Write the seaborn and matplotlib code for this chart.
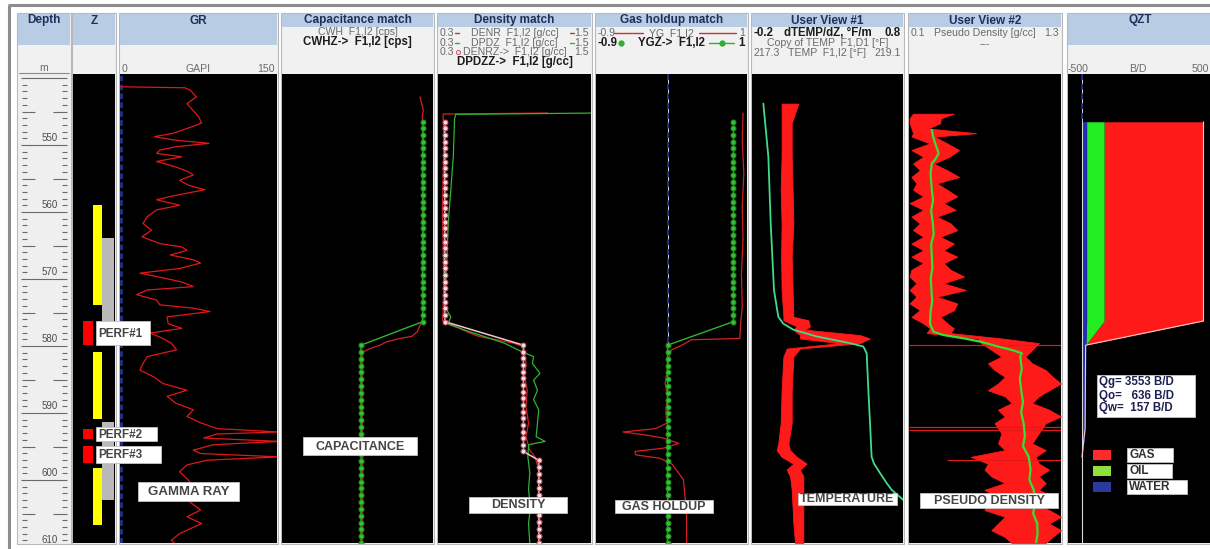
import numpy as np
import matplotlib
matplotlib.use("Agg")
import matplotlib.pyplot as plt
from matplotlib.patches import Rectangle
import seaborn as sns

sns.set_style("white")
plt.rcParams["font.family"] = ["Liberation Sans", "DejaVu Sans"]

# ---------------- log data (depth in m) ----------------
GR_DEPTH = [541.6, 541.75, 542.1, 543.1, 544.1, 545.0, 546.0, 547.0, 547.8, 548.5, 549.0, 549.5,
            550.0, 550.5, 551.0, 551.5, 552.0, 552.7, 553.5, 554.2, 554.7, 555.5, 556.2, 556.9,
            557.9, 558.4, 559.2, 559.9, 560.9, 561.9, 562.9, 563.9, 564.9, 565.4, 565.9, 566.6,
            567.3, 567.8, 568.6, 569.3, 569.8, 570.6, 571.3, 571.8, 572.5, 573.3, 574.0, 574.5,
            575.0, 575.8, 576.8, 577.5, 578.2, 579.0, 579.7, 580.7, 581.7, 582.7, 583.7, 584.7,
            585.7, 586.7, 587.6, 588.6, 589.6, 590.6, 591.6, 592.4, 592.9, 593.2, 593.8, 594.3,
            594.8, 595.6, 596.1, 596.6, 597.1, 597.8, 598.8, 600.0, 601.5, 603.0, 604.5, 605.5,
            606.5, 608.0, 609.0, 609.4]
GR_API = [1, 62, 67, 73, 64, 69, 75, 78, 64, 51, 33, 51,
          85, 54, 38, 35, 59, 35, 53, 65, 70, 57, 65, 81,
          48, 35, 57, 35, 26, 22, 30, 21, 38, 59, 64, 48,
          70, 77, 57, 19, 35, 59, 70, 26, 16, 35, 38, 70,
          86, 45, 46, 59, 29, 41, 49, 54, 26, 22, 19, 32,
          41, 64, 45, 53, 70, 64, 78, 93, 152, 93, 80, 152,
          89, 70, 77, 152, 83, 64, 57, 65, 72, 64, 77, 64,
          78, 57, 49, 52]

# Z track intervals
YELLOW_TOP = [559.2, 581.0, 598.2]
YELLOW_BASE = [574.0, 590.9, 606.7]
GRAY_TOP = [564.1, 591.4]
GRAY_BASE = [580.0, 603.0]
PERF_TOP = [576.4, 592.5, 595.0]
PERF_BASE = [580.0, 594.0, 597.5]
PERF_NAMES = ["PERF#1", "PERF#2", "PERF#3"]

# computation zones used by the zoned (matched) curves
ZONE_TOP = [546.8, 580.0]
ZONE_BASE = [576.5, 609.4]
CWHZ = [93.2, 52.3]
YGZ = [0.83, 0.0]
DEN_ZONE_TOP = [546.8, 580.0, 597.1]
DEN_ZONE_BASE = [576.5, 595.8, 609.4]
DENRZ = [0.353, 0.97, 1.09]

# capacitance (relative cps scale)
CWH_DEPTH = [543.1, 544.1, 545.1, 546.0, 549.5, 554.5, 559.4, 564.4, 569.3, 574.3, 576.3, 577.3,
             578.0, 578.7, 579.0, 579.5, 580.0, 580.5, 581.0, 581.7, 591.6, 601.5, 609.4]
CWH = [91.4, 92.5, 93.6, 92.9, 93.6, 92.9, 94.0, 93.6, 92.9, 93.6, 92.9, 90.9,
       89.6, 85.9, 78.1, 69.3, 64.9, 58.3, 53.8, 53.2, 53.2, 53.4, 53.2]

# density
DENR_DEPTH = [545.5, 545.65, 550.0, 555.0, 560.0, 565.0, 570.0, 575.0, 576.3, 576.8, 577.5, 578.2,
              578.7, 579.2, 579.7, 580.2, 582.7, 584.7, 586.7, 589.1, 591.6, 593.6, 595.6, 596.6,
              599.0, 601.5, 604.0, 606.5, 609.4]
DENR = [1.16, 0.34, 0.345, 0.34, 0.335, 0.34, 0.345, 0.34, 0.335, 0.36, 0.47, 0.55,
        0.62, 0.76, 0.89, 0.97, 0.99, 0.98, 1.0, 0.99, 1.01, 0.99, 1.02, 1.06,
        1.10, 1.09, 1.10, 1.095, 1.10]
DPDZ_DEPTH = [545.5, 545.7, 546.3, 552.0, 557.0, 561.9, 566.8, 571.8, 573.8, 574.8, 575.8, 576.8,
              577.7, 578.7, 579.7, 581.0, 581.7, 582.7, 584.2, 585.2, 586.7, 588.1, 589.6, 591.6,
              593.6, 594.3, 594.8, 596.6, 599.0, 601.5, 604.0, 606.5, 609.4]
DPDZ = [1.55, 0.44, 0.43, 0.42, 0.40, 0.38, 0.37, 0.36, 0.35, 0.37, 0.40, 0.38,
        0.50, 0.66, 0.82, 0.96, 1.05, 1.04, 1.10, 1.05, 1.08, 1.05, 1.09, 1.08,
        1.07, 1.14, 1.01, 1.005, 1.02, 1.01, 1.026, 1.01, 1.02]

# gas holdup
YG_DEPTH = [545.5, 549.5, 554.5, 559.4, 564.4, 569.3, 574.3, 576.8, 579.0, 579.2, 580.0, 580.7,
            581.7, 584.2, 585.7, 587.6, 589.6, 591.6, 592.4, 592.9, 593.3, 593.8, 594.6, 595.3,
            595.8, 596.3, 596.8, 597.6, 599.0, 600.0, 602.5, 605.5, 609.4]
YG = [0.95, 0.94, 0.96, 0.94, 0.95, 0.93, 0.94, 0.92, 0.91, 0.30, 0.18, 0.05,
      0.02, -0.01, -0.03, 0.0, -0.02, -0.01, -0.15, -0.56, -0.30, -0.05, 0.14, -0.05,
      -0.41, -0.40, -0.10, 0.05, 0.14, 0.20, 0.22, 0.24, 0.24]

# temperature and its gradient (gradient drawn as its noise envelope)
TEMP_DEPTH = [544.1, 552.0, 561.9, 571.8, 575.8, 576.8, 577.7, 578.7, 579.7, 580.2, 581.2, 586.7,
              591.6, 596.6, 597.6, 599.0, 600.5, 601.5, 603.0, 604.5]
TEMP = [217.435, 217.495, 217.523, 217.562, 217.614, 217.673, 217.793, 218.07, 218.468, 218.627,
        218.667, 218.687, 218.707, 218.726, 218.754, 218.826, 218.905, 218.965, 219.104, 219.18]
DTDZ_DEPTH = [544.1, 547.0, 552.0, 556.9, 561.9, 566.8, 571.8, 575.8, 576.3, 577.2, 577.7, 578.5,
              579.0, 579.7, 580.5, 581.7, 586.7, 591.6, 594.6, 595.6, 596.6, 597.6, 598.5, 599.5,
              601.5, 606.5, 609.4]
DTDZ_LO = [-0.004, -0.004, -0.004, -0.010, -0.004, -0.007, -0.004, 0.008, 0.008, 0.096, 0.074, 0.118,
           0.118, 0.383, 0.030, 0.008, -0.004, -0.010, -0.026, -0.037, -0.004, 0.074, 0.030, 0.052,
           0.063, 0.074, 0.085]
DTDZ_HI = [0.107, 0.063, 0.063, 0.069, 0.074, 0.063, 0.069, 0.074, 0.173, 0.184, 0.151, 0.515,
           0.581, 0.515, 0.118, 0.074, 0.063, 0.063, 0.041, 0.052, 0.096, 0.162, 0.118, 0.140,
           0.140, 0.140, 0.140]

# pseudo density: raw envelope, spikes, and smoothed curve
PD_DEPTH = [545.6, 546.3, 547.0, 547.8, 548.5, 549.0, 550.0, 551.0, 552.0, 553.0, 554.0, 555.0,
            555.95, 556.9, 557.9, 558.9, 559.9, 560.9, 561.9, 562.9, 563.9, 564.9, 565.9, 566.85,
            567.8, 568.8, 569.8, 570.8, 571.8, 572.8, 573.8, 574.8, 575.8, 576.75, 577.5, 578.2,
            579.0, 579.7, 580.7, 581.7, 582.7, 583.7, 584.7, 585.7, 586.7, 587.6, 588.6, 589.6,
            590.6, 591.6, 593.1, 594.6, 595.6, 596.6, 597.6, 598.5, 599.5, 600.5, 601.5, 602.5,
            603.5, 604.5, 605.5, 606.5, 607.5, 608.5, 609.4]
PD_LO = [0.132, 0.105, 0.105, 0.12, 0.132, 0.12, 0.266, 0.119, 0.213, 0.132, 0.186, 0.119,
         0.16, 0.132, 0.213, 0.105, 0.213, 0.119, 0.186, 0.132, 0.213, 0.119, 0.213, 0.119,
         0.213, 0.119, 0.105, 0.159, 0.105, 0.159, 0.105, 0.186, 0.119, 0.213, 0.266, 0.24,
         0.642, 0.669, 0.75, 0.83, 0.723, 0.776, 0.857, 0.803, 0.723, 0.857, 0.911, 0.803,
         0.857, 0.776, 0.83, 0.803, 0.857, 0.588, 0.723, 0.696, 0.75, 0.857, 0.696, 0.803,
         0.723, 0.696, 0.857, 0.803, 0.75, 0.857, 0.911]
PD_HI = [0.454, 0.35, 0.347, 0.25, 0.629, 0.3, 0.4, 0.495, 0.42, 0.293, 0.401, 0.495,
         0.32, 0.401, 0.481, 0.374, 0.468, 0.32, 0.428, 0.481, 0.347, 0.454, 0.374, 0.481,
         0.374, 0.428, 0.535, 0.374, 0.548, 0.32, 0.481, 0.454, 0.347, 0.401, 0.454, 0.428,
         0.83, 1.125, 1.072, 1.018, 1.072, 1.179, 1.233, 1.3, 1.206, 1.125, 1.072, 1.206,
         1.3, 1.179, 1.125, 1.072, 1.179, 1.1, 1.125, 1.206, 1.125, 1.179, 1.125, 1.233,
         1.072, 1.206, 1.3, 1.206, 1.3, 1.233, 1.179]
PD_SPIKE_DEPTH = [580.0, 592.2, 592.6, 597.05]
PD_SPIKE_LO = [0.1, 0.1, 0.1, 0.4]
PD_SPIKE_HI = [1.3, 1.3, 1.3, 1.3]
PDS_DEPTH = [548.0, 549.0, 550.0, 551.5, 552.3, 553.0, 554.5, 556.9, 558.5, 560.0, 561.9, 563.5,
             565.0, 566.8, 568.5, 570.0, 571.8, 573.5, 575.0, 576.8, 578.0, 578.5, 579.0, 579.5,
             580.2, 580.7, 581.2, 581.7, 583.5, 585.0, 586.7, 588.5, 590.0, 591.6, 593.5, 595.0,
             596.6, 598.5, 600.0, 601.5, 603.5, 605.0, 606.5, 608.0, 609.4]
PDS = [0.28, 0.29, 0.307, 0.334, 0.31, 0.28, 0.27, 0.28, 0.29, 0.275, 0.288, 0.295,
       0.275, 0.28, 0.285, 0.272, 0.277, 0.283, 0.27, 0.266, 0.293, 0.374, 0.535, 0.669,
       0.803, 0.91, 0.991, 0.978, 0.99, 0.975, 0.986, 1.0, 0.985, 1.005, 1.015, 1.0,
       1.045, 1.06, 1.05, 1.085, 1.095, 1.08, 1.112, 1.115, 1.104]

# flow profile (B/D)
QZ_DEPTH = [546.8, 576.4, 580.0, 592.4, 596.6]
Q_WATER = [157, 157, 130, 110, 0]
Q_OIL = [636, 636, 0, 0, 0]
Q_GAS = [3553, 3553, 0, 0, 0]

# ---------------- layout ----------------
W, H = 1210, 549
DATA_TOP, DATA_BOT = 74, 543
TOP_DEPTH, BASE_DEPTH = 539.7, 609.4

NAVY = "#1f2f5c"
GRAY_TXT = "#6a6a6a"
DARK_TXT = "#1c1c1c"
BLUE_HDR = "#b8cce4"
LIGHT_HDR = "#f1f1f1"
LABEL_TXT = "#454545"
NORMAL_SIZE = 7.6
BOLD_SIZE = 8.3

TRACK_X = {"depth": (18, 70), "z": (73, 115), "gr": (120, 277), "cap": (282, 433),
           "den": (438, 591), "gas": (596, 747), "uv1": (752, 903), "uv2": (909, 1061),
           "qzt": (1068, 1212)}

fig = plt.figure(figsize=(W / 100, H / 100), dpi=100, facecolor="white")
bg = fig.add_axes([0, 0, 1, 1], zorder=0)
bg.set_xlim(0, W)
bg.set_ylim(H, 0)
bg.axis("off")

# outer frame
bg.plot([8, W], [5, 5], color="#8c8c8c", lw=2.2, solid_capstyle="butt")
bg.plot([9, 9], [5, H], color="#8c8c8c", lw=2.2, solid_capstyle="butt")


def track_header(key, title, blue_bottom):
    x0, x1 = TRACK_X[key]
    bg.add_patch(Rectangle((x0 - 1, 13), x1 - x0 + 2, DATA_BOT - 13 + 1, fc=LIGHT_HDR,
                           ec="#b8b8b8", lw=0.8))
    bg.add_patch(Rectangle((x0, 14), x1 - x0, blue_bottom - 14, fc=BLUE_HDR, ec="none"))
    bg.text((x0 + x1) / 2, 20.5, title, ha="center", va="center", fontsize=8.5,
            fontweight="bold", color=NAVY)


def scale_line(key, y, mid, left=None, right=None, bold=False):
    x0, x1 = TRACK_X[key]
    color = DARK_TXT if bold else GRAY_TXT
    size = BOLD_SIZE if bold else NORMAL_SIZE
    kw = dict(va="center", fontsize=size, color=color, fontweight="bold" if bold else "normal")
    if left is not None:
        bg.text(x0 + 2, y, left, ha="left", **kw)
    bg.text((x0 + x1) / 2, y, mid, ha="center", **kw)
    if right is not None:
        bg.text(x1 - 2, y, right, ha="right", **kw)


track_header("depth", "Depth", 45)
track_header("z", "Z", 45)
track_header("gr", "GR", 45)
track_header("cap", "Capacitance match", 27)
track_header("den", "Density match", 27)
track_header("gas", "Gas holdup match", 27)
track_header("uv1", "User View #1", 27)
track_header("uv2", "User View #2", 27)
track_header("qzt", "QZT", 45)

# depth header
bg.text(44, 68, "m", ha="center", va="center", fontsize=7.5, color=GRAY_TXT)
bg.plot([19, 69], [72.5, 72.5], color="#8a8a8a", lw=0.8)
bg.plot([19, 69], [75.5, 75.5], color="#8a8a8a", lw=0.8)
# GR header scale
scale_line("gr", 69, "GAPI", "0", "150")
# capacitance header
scale_line("cap", 32, "CWH  F1,I2 [cps]")
scale_line("cap", 42.5, "CWHZ->  F1,I2 [cps]", bold=True)
# density header
scale_line("den", 33, "DENR  F1,I2 [g/cc]", "0.3", "1.5")
scale_line("den", 42.5, "DPDZ  F1,I2 [g/cc]", "0.3", "1.5")
scale_line("den", 52, "DENRZ->  F1,I2 [g/cc]", "0.3", "1.5")
scale_line("den", 62, "DPDZZ->  F1,I2 [g/cc]", bold=True)
for yy, col in [(33, "#d03030"), (42.5, "#30b030")]:
    bg.plot([455, 459], [yy, yy], color=col, lw=1)
    bg.plot([570, 574], [yy, yy], color=col, lw=1)
bg.plot([458], [52], marker="o", ms=3, mfc="#f6dde1", mec="#c04a5a", mew=0.6)
# gas holdup header
scale_line("gas", 33, "YG  F1,I2", "-0.9", "1")
scale_line("gas", 43, "YGZ->  F1,I2", "-0.9", "1", bold=True)
bg.plot([614, 643], [33, 33], color="#d03030", lw=1)
bg.plot([699, 736], [33, 33], color="#d03030", lw=1)
bg.plot([621], [43], marker="o", ms=3.5, color="#30b030")
bg.plot([709, 734], [43, 43], color="#30b030", lw=1)
bg.plot([721.5], [43], marker="o", ms=3.5, color="#30b030")
# user view headers
scale_line("uv1", 33, "dTEMP/dZ, °F/m", "-0.2", "0.8", bold=True)
scale_line("uv1", 43, "Copy of TEMP  F1,D1 [°F]")
scale_line("uv1", 53, "TEMP  F1,I2 [°F]", "217.3", "219.1")
scale_line("uv2", 33, "Pseudo Density [g/cc]", "0.1", "1.3")
scale_line("uv2", 44, "---")
# QZT header
bg.text(1068, 69, "-500", ha="left", va="center", fontsize=NORMAL_SIZE, color=GRAY_TXT)
bg.text(1138, 69, "B/D", ha="center", va="center", fontsize=NORMAL_SIZE, color=GRAY_TXT)
bg.text(1209, 69, "500", ha="right", va="center", fontsize=NORMAL_SIZE, color=GRAY_TXT)


def track_axes(key, xlim, face="black", y0=DATA_TOP):
    x0, x1 = TRACK_X[key]
    ax = fig.add_axes([x0 / W, 1 - DATA_BOT / H, (x1 - x0) / W, (DATA_BOT - y0) / H], zorder=1)
    ax.set_facecolor(face)
    ax.set_xlim(*xlim)
    ax.set_ylim(BASE_DEPTH, TOP_DEPTH)
    return ax


def finish(ax, xlim):
    ax.set_xlim(*xlim)
    ax.set_ylim(BASE_DEPTH, TOP_DEPTH)
    ax.set_xlabel("")
    ax.set_ylabel("")
    ax.set_xticks([])
    ax.set_yticks([])
    for s in ax.spines.values():
        s.set_visible(False)


def curve(ax, x, y, color, lw=1.0, **kw):
    sns.lineplot(x=x, y=y, orient="y", sort=False, estimator=None, color=color, lw=lw,
                 legend=False, ax=ax, **kw)


def zoned(ax, tops, bases, vals, color, mfc, mec, lw=1.0, ms=3.6):
    dep, val = [], []
    for t, b, v in zip(tops, bases, vals):
        n = int(round(b - t)) + 1
        st = np.linspace(t, b, n)
        dep.extend(st)
        val.extend([v] * n)
    curve(ax, val, dep, color, lw=lw, marker="o", markersize=ms, markerfacecolor=mfc,
          markeredgecolor=mec, markeredgewidth=0.7)


# ---- depth track ----
ax_d = track_axes("depth", (0, 1), face="#efefef", y0=76)
for d in range(540, 611):
    if d % 10 == 0:
        ax_d.hlines(d, 0.06, 0.95, color="#6a6a6a", lw=0.8)
        if d > 540:
            ax_d.text(0.6, d - 0.3, str(d), ha="center", va="bottom", fontsize=7,
                      color="#4d4d4d", clip_on=False)
    elif d % 5 == 0:
        ax_d.hlines(d, 0.07, 0.33, color="#6a6a6a", lw=0.8)
        ax_d.hlines(d, 0.67, 0.94, color="#6a6a6a", lw=0.8)
    else:
        ax_d.hlines(d, 0.07, 0.17, color="#6a6a6a", lw=0.8)
        ax_d.hlines(d, 0.84, 0.94, color="#6a6a6a", lw=0.8)
finish(ax_d, (0, 1))

# ---- Z track ----
ax_z = track_axes("z", (0, 1))
ax_z.bar(0.837, np.subtract(GRAY_BASE, GRAY_TOP), bottom=GRAY_TOP, width=0.279,
         color="#b9b9b9", lw=0)
ax_z.bar(0.583, np.subtract(YELLOW_BASE, YELLOW_TOP), bottom=YELLOW_TOP, width=0.229,
         color="#ffff00", lw=0)
ax_z.bar(0.364, np.subtract(PERF_BASE, PERF_TOP), bottom=PERF_TOP, width=0.238,
         color="#ff0000", lw=0)
finish(ax_z, (0, 1))

# ---- GR ----
ax_gr = track_axes("gr", (0, 150))
ax_gr.axvline(1.0, color="#22308a", lw=2.0, ls=(0, (2, 1.2)))
curve(ax_gr, GR_API, GR_DEPTH, "#e01818", lw=0.9)
finish(ax_gr, (0, 150))

# ---- capacitance ----
ax_c = track_axes("cap", (0, 100))
curve(ax_c, CWH, CWH_DEPTH, "#d42020", lw=0.9)
zoned(ax_c, ZONE_TOP, ZONE_BASE, CWHZ, "#2fb52f", "#35c035", "#1f8a1f")
finish(ax_c, (0, 100))

# ---- density ----
ax_den = track_axes("den", (0.3, 1.5))
curve(ax_den, DENR, DENR_DEPTH, "#d42020", lw=0.9)
curve(ax_den, DPDZ, DPDZ_DEPTH, "#2fb52f", lw=0.9)
zoned(ax_den, DEN_ZONE_TOP, DEN_ZONE_BASE, DENRZ, "#f2c6cc", "#f6dde1", "#c04a5a", lw=1.1)
finish(ax_den, (0.3, 1.5))

# ---- gas holdup ----
ax_g = track_axes("gas", (-0.9, 1.0))
ax_g.vlines(0.0, TOP_DEPTH, 580.0, color="white", lw=0.6)
ax_g.vlines(0.0, TOP_DEPTH, 580.0, color="#1e2a80", lw=1.4, linestyles=(0, (3, 2)))
curve(ax_g, YG, YG_DEPTH, "#d42020", lw=0.9)
zoned(ax_g, ZONE_TOP, ZONE_BASE, YGZ, "#2fb52f", "#35c035", "#1f8a1f")
finish(ax_g, (-0.9, 1.0))

# ---- user view 1: temperature ----
ax_t = track_axes("uv1", (-0.2, 0.8))
ax_t.fill_betweenx(DTDZ_DEPTH, DTDZ_LO, DTDZ_HI, color="#ff1a1a", lw=0.6, edgecolor="#ff1a1a")
ax_t2 = ax_t.twiny()
curve(ax_t2, TEMP, TEMP_DEPTH, "#3fdc8a", lw=1.3)
finish(ax_t, (-0.2, 0.8))
finish(ax_t2, (217.3, 219.1))
ax_t2.patch.set_visible(False)

# ---- user view 2: pseudo density ----
ax_p = track_axes("uv2", (0.1, 1.3))
ax_p.fill_betweenx(PD_DEPTH, PD_LO, PD_HI, color="#ff1a1a", lw=0.6, edgecolor="#ff1a1a")
ax_p.hlines(PD_SPIKE_DEPTH, PD_SPIKE_LO, PD_SPIKE_HI, color="#e01818", lw=0.9)
curve(ax_p, PDS, PDS_DEPTH, "#33e033", lw=1.6)
finish(ax_p, (0.1, 1.3))

# ---- QZT flow profile ----
ax_q = track_axes("qzt", (-500, 4650))
q_w = np.array(Q_WATER, dtype=float)
q_wo = q_w + np.array(Q_OIL, dtype=float)
q_all = q_wo + np.array(Q_GAS, dtype=float)
ax_q.vlines(0, TOP_DEPTH, QZ_DEPTH[0], color="white", lw=0.6)
ax_q.vlines(0, TOP_DEPTH, QZ_DEPTH[0], color="#1e2a80", lw=1.4, linestyles=(0, (3, 2)))
ax_q.vlines(0, QZ_DEPTH[0], BASE_DEPTH, color="#d8d8d8", lw=0.8)
ax_q.fill_betweenx(QZ_DEPTH, q_wo, q_all, color="#ff1a1a", lw=0)
ax_q.plot(q_all, QZ_DEPTH, color="#ffc8c8", lw=0.8)
ax_q.fill_betweenx(QZ_DEPTH, q_w, q_wo, color="#22ee22", lw=0)
ax_q.fill_betweenx(QZ_DEPTH, 0, q_w, color="#1f2fb0", lw=0.5, edgecolor="#1f2fb0")
finish(ax_q, (-500, 4650))

# ---------------- annotations ----------------
ov = fig.add_axes([0, 0, 1, 1], zorder=5)
ov.set_xlim(0, W)
ov.set_ylim(H, 0)
ov.axis("off")


def depth_px(d):
    return H - ax_z.transData.transform((0.0, d))[1]


def label_box(x0, x1, y0, y1, text, size=9, ha="center", color=LABEL_TXT):
    ov.add_patch(Rectangle((x0, y0), x1 - x0, y1 - y0, fc="white", ec="#c4c4c4", lw=0.6))
    tx = (x0 + x1) / 2 if ha == "center" else x0 + 2
    ov.text(tx, (y0 + y1) / 2 + 0.5, text, ha=ha, va="center", fontsize=size,
            fontweight="bold", color=color)


perf_right = [150, 157, 161]
for top, base, name, xr in zip(PERF_TOP, PERF_BASE, PERF_NAMES, perf_right):
    y0, y1 = depth_px(top), depth_px(base)
    mid = (y0 + y1) / 2
    hh = max(y1 - y0, 14)
    label_box(96, xr, mid - hh / 2, mid + hh / 2, name, size=8.5, ha="left")

label_box(138, 239, 482, 501, "GAMMA RAY", size=9.5)
label_box(303, 417, 437, 455, "CAPACITANCE", size=9)
label_box(469, 567, 497, 513, "DENSITY", size=9)
label_box(615, 713, 500, 513, "GAS HOLDUP", size=9)
label_box(798, 897, 493, 505, "TEMPERATURE", size=9)
label_box(920, 1058, 493, 508, "PSEUDO DENSITY", size=9)

# rate summary
ov.add_patch(Rectangle((1097, 375), 98, 42, fc="white", ec="#c4c4c4", lw=0.6))
rate_lines = [f"Qg= {Q_GAS[0]} B/D", f"Qo=   {Q_OIL[0]} B/D", f"Qw=  {Q_WATER[0]} B/D"]
for i, s in enumerate(rate_lines):
    ov.text(1099, 382.5 + i * 13, s, ha="left", va="center", fontsize=8.3,
            fontweight="bold", color="#1a2050")

# phase legend
legend_items = [("GAS", "#ff2a2a", 1173), ("OIL", "#8fe03a", 1172), ("WATER", "#2a3a9c", 1187)]
for i, (name, col, xr) in enumerate(legend_items):
    yc = 455 + i * 16
    ov.add_patch(Rectangle((1093, yc - 5), 18, 10, fc=col, ec="none"))
    label_box(1127, xr, yc - 7, yc + 7, name, size=8.5, ha="left", color="#303030")

fig.savefig("out.png", dpi=100, facecolor="white")
